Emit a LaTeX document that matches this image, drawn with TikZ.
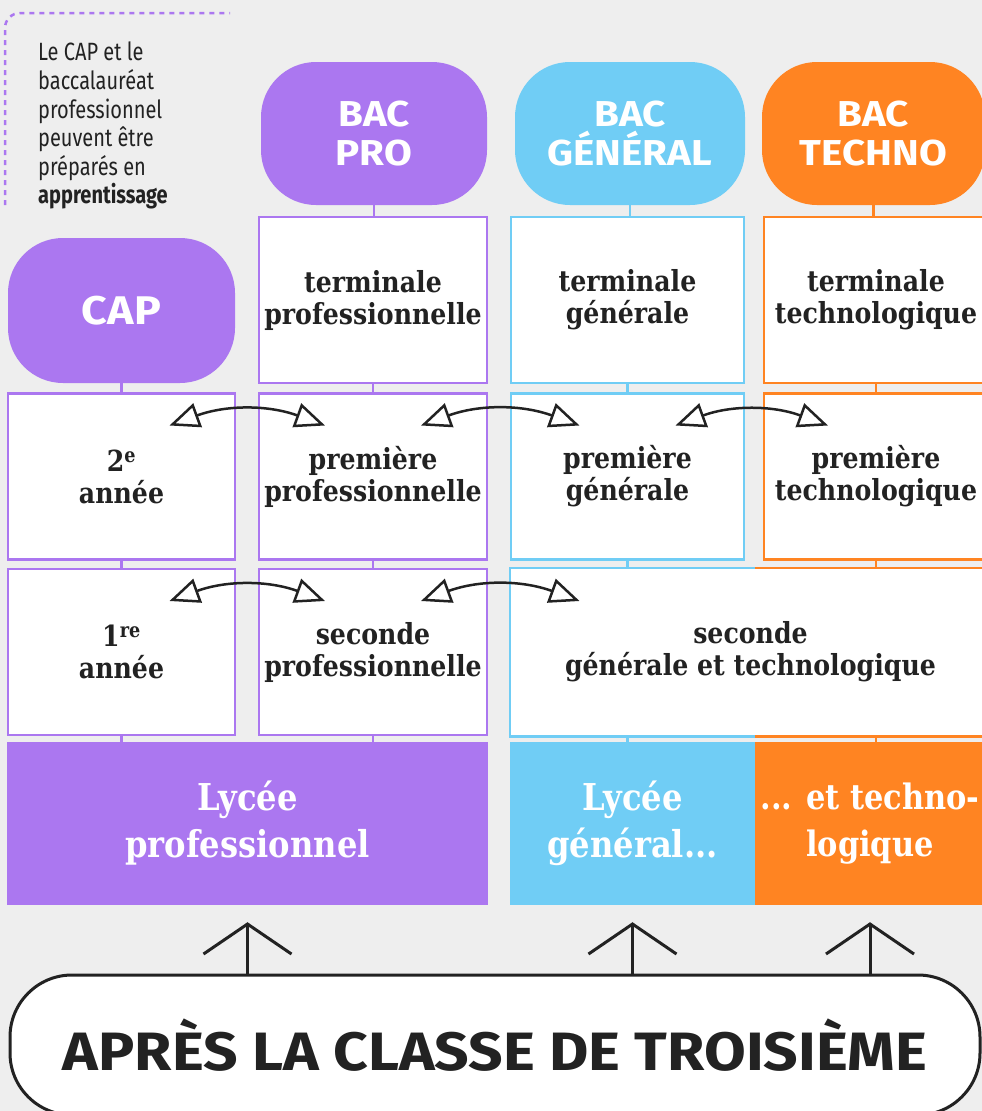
\documentclass[tikz,border=0pt]{standalone}
\usepackage{fontspec}
\setmainfont{DejaVu Serif}
\newfontfamily\slab{DejaVu Serif}[FakeStretch=0.87]
\newfontfamily\disp{Fira Sans}[FakeStretch=1.12]
\newfontfamily\notefont{Fira Sans}[FakeStretch=0.8]
\usepackage{tikz}
\usetikzlibrary{arrows.meta,positioning}
\definecolor{pro}{RGB}{171,119,240}
\definecolor{gen}{RGB}{112,205,245}
\definecolor{tech}{RGB}{255,132,34}
\definecolor{fond}{RGB}{238,238,238}
\definecolor{encre}{RGB}{34,34,34}
\tikzset{
  cell/.style={draw=#1, line width=2.5pt, fill=white, minimum height=166pt, align=center, inner sep=0pt, text=encre, font=\slab\bfseries\fontsize{29}{32}\selectfont},
  bac/.style={fill=#1, rounded corners=55pt, minimum height=143pt, align=center, text=white, font=\disp\bfseries\fontsize{36}{39}\selectfont},
  lycee/.style={fill=#1, minimum height=163pt, align=center, inner sep=0pt, text=white, font=\slab\bfseries\fontsize{37}{47}\selectfont},
  tick/.style={draw=#1, line width=2.5pt},
  dbl/.style={{Triangle[open,length=30pt,width=25pt]}-{Triangle[open,length=30pt,width=25pt]}, line width=2.5pt, draw=encre},
  upar/.style={-{Straight Barb[length=30pt,width=88pt]}, line width=3pt, draw=encre, shorten >=17pt}
}
\begin{document}
\begin{tikzpicture}[x=1pt,y=-1pt]
\fill[fond] (0,0) rectangle (982,1111);
\useasboundingbox (0,0) rectangle (982,1111);
\draw[pro, line width=2.5pt, dash pattern=on 5pt off 5pt, rounded corners=15pt] (5,205) -- (5,13) -- (230,13);
\node[anchor=north west, align=left, inner sep=0pt, text=encre, font=\notefont\fontsize{25}{28.6}\selectfont] (note) at (38,42) {Le CAP et le\\baccalauréat\\professionnel\\peuvent être\\préparés en\\\textbf{apprentissage}};
\node[bac=pro, minimum width=226pt] (bacpro) at (374,133.5) {BAC\\PRO};
\node[bac=gen, minimum width=230pt] (bacgen) at (630,133.5) {BAC\\GÉNÉRAL};
\node[bac=tech, minimum width=223pt] (bactech) at (873.5,133.5) {BAC\\TECHNO};
\node[bac=pro, minimum width=227pt, minimum height=145pt, font=\disp\bfseries\fontsize{40}{40}\selectfont] (cap) at (121.5,310.5) {CAP};
\node[cell=pro, minimum width=228pt] (tpro) at (373,300) {terminale\\professionnelle};
\node[cell=gen, minimum width=233pt] (tgen) at (627.5,300) {terminale\\générale};
\node[cell=tech, minimum width=224pt] (ttech) at (876,300) {terminale\\technologique};
\node[cell=pro, minimum width=227pt] (an2) at (121.5,476.5) {2\textsuperscript{e}\\année};
\node[cell=pro, minimum width=228pt] (ppro) at (373,476.5) {première\\professionnelle};
\node[cell=gen, minimum width=233pt] (pgen) at (627.5,476.5) {première\\générale};
\node[cell=tech, minimum width=224pt] (ptech) at (876,476.5) {première\\technologique};
\node[cell=pro, minimum width=227pt] (an1) at (121.5,652) {1\textsuperscript{re}\\année};
\node[cell=pro, minimum width=228pt] (spro) at (373,652) {seconde\\professionnelle};
\node[lycee=pro, minimum width=481pt] (lpro) at (247.5,823.5) {Lycée\\professionnel};
\node[lycee=gen, minimum width=245pt] (lgen) at (632.5,823.5) {Lycée\\général...};
\node[lycee=tech, minimum width=230pt, font=\slab\bfseries\fontsize{35}{47}\selectfont] (ltech) at (870,823.5) {... et techno-\\logique};
\node[cell=white, draw=none, minimum width=479pt] (sgt) at (750.5,652) {seconde\\générale et technologique};
\draw[gen, line width=2.5pt] (sgt.north -| lgen.east) -- (sgt.north west) -- (sgt.south west) -- (sgt.south -| lgen.east);
\draw[tech, line width=2.5pt] (sgt.north -| lgen.east) -- (sgt.north east) -- (sgt.south east) -- (sgt.south -| lgen.east);
\node[draw=encre, line width=3pt, fill=white, rounded corners=62pt, minimum width=970pt, minimum height=140pt, text=encre, font=\disp\bfseries\fontsize{54}{54}\selectfont] (apres) at (495,1045) {APRÈS LA CLASSE DE TROISIÈME};
\foreach \x/\a/\b/\c in {bacpro/bacpro/tpro/pro, bacgen/bacgen/tgen/gen, bactech/bactech/ttech/tech, cap/cap/an2/pro, tpro/tpro/ppro/pro, tgen/tgen/pgen/gen, ttech/ttech/ptech/tech, an2/an2/an1/pro, ppro/ppro/spro/pro, pgen/pgen/sgt/gen, ptech/ptech/sgt/tech, an1/an1/lpro/pro, spro/spro/lpro/pro, pgen/sgt/lgen/gen, ptech/sgt/ltech/tech}
  \draw[tick=\c] (\x |- \a.south) -- (\x |- \b.north);
\coordinate (sgen) at (pgen |- sgt);
\foreach \a/\b in {an2/ppro, ppro/pgen, pgen/ptech, an1/spro, spro/sgen}
  \draw[dbl] ([shift={(48,-51)}]\a.center) to[bend left=20] ([shift={(-48,-51)}]\b.center);
\foreach \l in {lpro, lgen, ltech} \draw[upar] (apres.north -| \l) -- (\l.south);
\end{tikzpicture}
\end{document}
